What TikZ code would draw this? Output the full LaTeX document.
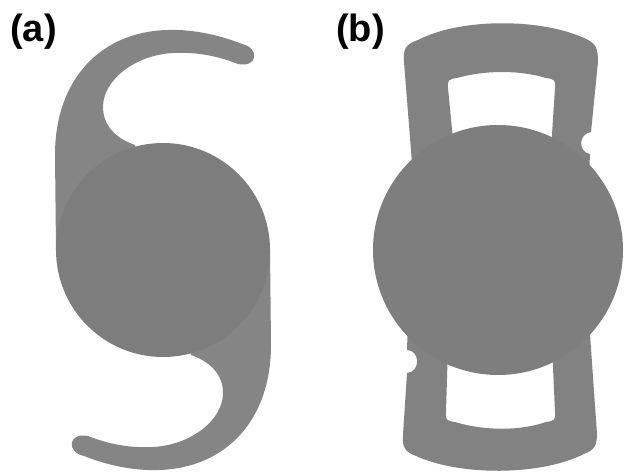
\documentclass[tikz,border=0pt]{standalone}
\usepackage{fontspec}
\setmainfont{Liberation Sans}
\definecolor{hapticgray}{HTML}{858585}
\definecolor{opticgray}{HTML}{7D7D7D}
\definecolor{plategray}{HTML}{828282}
\definecolor{plateoptic}{HTML}{7E7E7E}
% outline of one C-loop haptic with its root, in pixel-like units (y grows downwards)
\newcommand{\cloopoutline}{%
  (163,250) -- (56,250) -- (55,155)
  .. controls (55,80) and (100,32) .. (167,30)
  .. controls (195,29) and (222,36) .. (242,44)
  .. controls (260,48) and (258,68) .. (238,64)
  .. controls (215,55) and (195,52) .. (173,53)
  .. controls (135,55) and (103,80) .. (103,107)
  .. controls (103,125) and (115,138) .. (135,145)
  -- cycle}
\tikzset{
  haptic/.style={fill=hapticgray, draw=none},
  optic/.style={fill=opticgray, draw=none},
  plate/.style={fill=plategray, draw=none, even odd rule},
  plateop/.style={fill=plateoptic, draw=none},
  panel/.style={font=\fontsize{38}{40}\selectfont\bfseries, inner sep=0pt}
}
\begin{document}
\begin{tikzpicture}[x=1pt, y=-1pt]
\fill[white] (0,0) rectangle (624,474);
\useasboundingbox (0,0) rectangle (624,474);

% (a) one-piece lens with two C-loop haptics
\fill[haptic] \cloopoutline;
\begin{scope}[rotate around={180:(163,250)}]
  \fill[haptic] \cloopoutline;
\end{scope}
\fill[optic] (163,250) circle[radius=107];

% (b) plate-haptic lens: upper plate with window
\fill[plate]
  (414,200) -- (412,163) -- (404,62)
  .. controls (403,50) and (405,44) .. (418,40)
  .. controls (460,18) and (540,18) .. (584,38)
  .. controls (596,43) and (598,48) .. (598,62)
  -- (591,132)
  .. controls (578,134) and (578,152) .. (590,154)
  -- (588,200) -- cycle
  (454,150) -- (448,88)
  .. controls (447,80) and (449,79) .. (457,78)
  .. controls (485,70) and (520,70) .. (546,78)
  .. controls (554,79) and (556,80) .. (555,88)
  -- (551,150) -- cycle;

% lower plate with window
\fill[plate]
  (589,320) -- (597,434)
  .. controls (597,446) and (594,450) .. (584,454)
  .. controls (540,476) and (460,476) .. (416,456)
  .. controls (405,452) and (402,447) .. (403,435)
  -- (407,373)
  .. controls (421,372) and (420,350) .. (407,350)
  -- (408,320) -- cycle
  (448,345) -- (446,412)
  .. controls (445,420) and (447,421) .. (455,422)
  .. controls (485,431) and (520,431) .. (546,422)
  .. controls (554,421) and (556,420) .. (555,412)
  -- (552,345) -- cycle;

% optic of (b)
\fill[plateop] (498,250) circle[radius=125];

% panel letters
\node[panel] (la) at (33.5,31.5) {(a)};
\node[panel] (lb) at (360.5,31.5) {(b)};
\end{tikzpicture}
\end{document}
